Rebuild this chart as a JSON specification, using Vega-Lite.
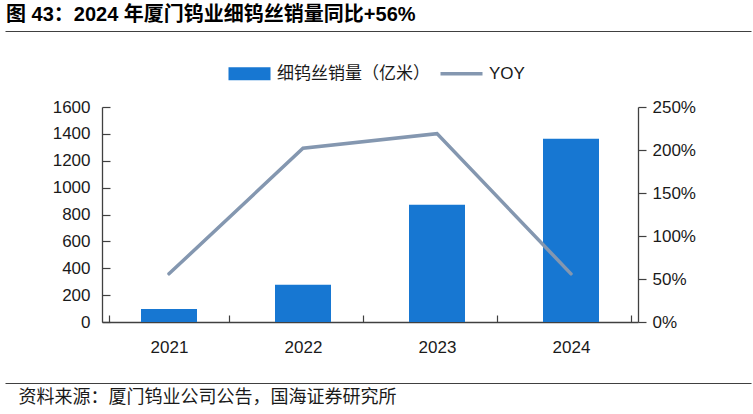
{
  "$schema": "https://vega.github.io/schema/vega-lite/v6.json",
  "autosize": {"type": "none"},
  "padding": {"left": 102, "top": 107, "right": 115, "bottom": 92},
  "width": 536,
  "height": 215,
  "background": "#ffffff",
  "config": {"view": {"stroke": null}, "font": "Liberation Sans"},
  "title": {
    "text": "图 43：2024 年厦门钨业细钨丝销量同比+56%",
    "anchor": "start",
    "frame": "group",
    "dx": -96,
    "offset": 6,
    "font": "Liberation Sans, Noto Sans CJK SC",
    "fontSize": 20,
    "fontWeight": "bold",
    "color": "#000000"
  },
  "data": {
    "values": [
      {"year": "2021", "sales": 96, "yoy": 0.56, "s1": "细钨丝销量（亿米）", "s2": "YOY"},
      {"year": "2022", "sales": 277, "yoy": 2.02, "s1": "细钨丝销量（亿米）", "s2": "YOY"},
      {"year": "2023", "sales": 873, "yoy": 2.19, "s1": "细钨丝销量（亿米）", "s2": "YOY"},
      {"year": "2024", "sales": 1363, "yoy": 0.56, "s1": "细钨丝销量（亿米）", "s2": "YOY"}
    ]
  },
  "layer": [
    {
      "layer": [
        {
          "mark": {"type": "bar", "size": 56, "color": "#1777D2"},
          "encoding": {
            "x": {
              "field": "year", "type": "nominal", "title": null, "sort": null,
              "axis": {
                "labelAngle": 0, "labelFontSize": 17, "labelColor": "#1a1a1a", "labelPadding": 24,
                "domainColor": "#404040", "domainWidth": 1.3,
                "tickBand": "extent", "tickSize": -7, "tickColor": "#404040", "tickWidth": 1.2,
                "grid": false
              }
            },
            "y": {
              "field": "sales", "type": "quantitative", "title": null,
              "scale": {"domain": [0, 1600], "nice": false},
              "axis": {
                "values": [0, 200, 400, 600, 800, 1000, 1200, 1400, 1600],
                "format": "d",
                "labelFontSize": 17, "labelColor": "#1a1a1a", "labelPadding": 20,
                "domainColor": "#404040", "domainWidth": 1.3,
                "tickSize": -8, "tickColor": "#404040", "tickWidth": 1.2,
                "grid": false
              }
            },
            "color": {
              "field": "s1", "type": "nominal",
              "scale": {"domain": ["细钨丝销量（亿米）", "YOY"], "range": ["#1777D2", "#8497B0"]},
              "legend": {
                "title": null, "orient": "none", "legendX": 139, "legendY": -42,
                "direction": "horizontal", "columns": 2, "columnPadding": 3,
                "labelFont": "Liberation Sans, Noto Sans CJK SC", "labelFontSize": 17,
                "labelColor": "#1a1a1a", "labelOffset": 19, "symbolSize": 1764,
                "labelLimit": 300,
                "encode": {
                  "symbols": {
                    "update": {
                      "shape": {"signal": "datum.value === 'YOY' ? 'M-1,0H1' : 'M-1,-0.31H1V0.31H-1Z'"},
                      "fill": {"signal": "datum.value === 'YOY' ? 'transparent' : '#1777D2'"},
                      "stroke": {"signal": "datum.value === 'YOY' ? '#8497B0' : 'transparent'"},
                      "strokeWidth": {"signal": "datum.value === 'YOY' ? 3.5 : 0"},
                      "opacity": {"value": 1}
                    }
                  }
                }
              }
            }
          }
        },
        {
          "mark": {"type": "line", "strokeWidth": 3.5, "strokeCap": "round"},
          "encoding": {
            "x": {"field": "year", "type": "nominal", "sort": null},
            "y": {
              "field": "yoy", "type": "quantitative", "title": null,
              "scale": {"domain": [0, 2.5], "nice": false},
              "axis": {
                "orient": "right", "format": ".0%",
                "values": [0, 0.5, 1, 1.5, 2, 2.5],
                "labelFontSize": 17, "labelColor": "#1a1a1a", "labelPadding": 6,
                "domainColor": "#404040", "domainWidth": 1.3,
                "tickSize": 8, "tickColor": "#404040", "tickWidth": 1.2,
                "grid": false
              }
            },
            "color": {"field": "s2", "type": "nominal"}
          }
        }
      ],
      "resolve": {"scale": {"y": "independent"}}
    },
    {
      "mark": {"type": "rule", "opacity": 0},
      "encoding": {
        "x": {
          "datum": 0, "type": "quantitative",
          "scale": {"domain": [0, 1], "range": [-97, 649]},
          "axis": {"orient": "top", "offset": 76, "domain": true, "domainColor": "#404040", "domainWidth": 1.2,
                   "ticks": false, "labels": false, "grid": false, "title": null}
        }
      }
    },
    {
      "mark": {"type": "rule", "opacity": 0},
      "encoding": {
        "x": {
          "datum": 0, "type": "quantitative",
          "scale": {"domain": [0, 1], "range": [-97, 649]},
          "axis": {"orient": "bottom", "offset": 61, "domain": true, "domainColor": "#404040", "domainWidth": 1.2,
                   "ticks": false, "labels": false, "grid": false,
                   "title": "资料来源：厦门钨业公司公告，国海证券研究所",
                   "titleFont": "Noto Sans CJK SC", "titleFontSize": 18, "titleFontWeight": "normal",
                   "titleColor": "#1a1a1a", "titleAnchor": "start", "titleAlign": "left",
                   "titleBaseline": "top", "titleX": -84, "titleY": 5}
        }
      }
    }
  ],
  "resolve": {"scale": {"x": "independent", "y": "independent"}}
}
